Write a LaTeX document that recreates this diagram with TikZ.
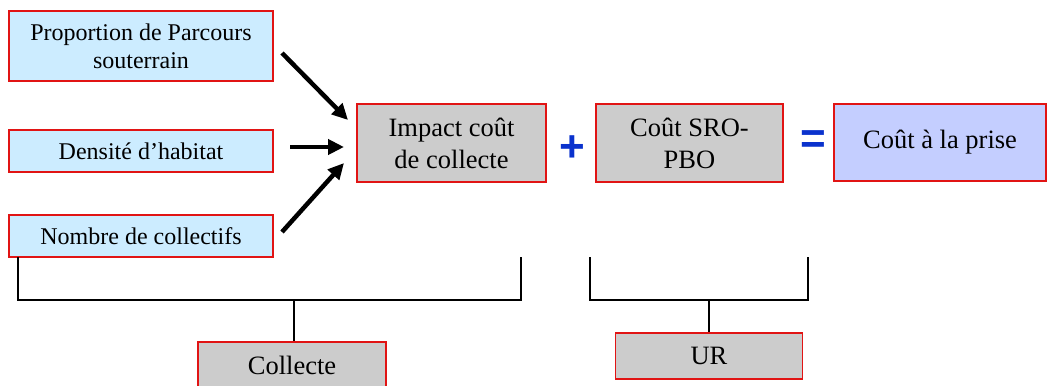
\documentclass[tikz,border=0pt]{standalone}
\usepackage{fontspec}
\setmainfont{Liberation Serif}
\newfontfamily\mysignfont{Liberation Sans}
\usetikzlibrary{arrows.meta}
\definecolor{boxred}{RGB}{225,20,20}
\definecolor{lightblue}{RGB}{204,236,255}
\definecolor{boxgray}{RGB}{204,204,204}
\definecolor{lavender}{RGB}{196,206,255}
\definecolor{signblue}{RGB}{10,50,205}
\tikzset{
  basebox/.style={draw=boxred, line width=1.5pt, inner sep=0pt, align=center, anchor=center},
  leftbox/.style={basebox, fill=lightblue, minimum width=264pt, font=\rmfamily\fontsize{24}{28}\selectfont},
  graybox/.style={basebox, fill=boxgray, font=\rmfamily\fontsize{26.5}{32}\selectfont},
  resultbox/.style={basebox, fill=lavender, font=\rmfamily\fontsize{26.5}{32}\selectfont},
  thickarrow/.style={line width=4.5pt, -{Triangle[length=16pt,width=15pt]}},
  bracket/.style={line width=1.3pt, black},
  signtext/.style={text=signblue, font=\mysignfont\bfseries\fontsize{44}{44}\selectfont, inner sep=0pt}
}
\begin{document}
\begin{tikzpicture}[x=1pt,y=-1pt]
\useasboundingbox (0,0) rectangle (1048,385);
% left boxes
\node[leftbox, minimum height=70pt] (p1) at (141,46) {Proportion de Parcours\\souterrain};
\node[leftbox, minimum height=42pt] (p2) at (141,151) {Densité d’habitat};
\node[leftbox, minimum height=42pt] (p3) at (141,236) {Nombre de collectifs};
% main boxes
\node[graybox, minimum width=189pt, minimum height=78pt] (imp) at (451.5,143) {Impact coût\\de collecte};
\node[graybox, minimum width=187pt, minimum height=78pt] (sro) at (689.5,143) {Coût SRO-\\PBO};
\node[resultbox, minimum width=212pt, minimum height=77pt] (prise) at (940,142.5) {Coût à la prise};
% signs
\node[signtext] (plus) at (572,149) {+};
\node[signtext] (eq) at (813,142) {=};
% bottom boxes
\node[graybox, minimum width=188pt, minimum height=46pt] (col) at (292,365) {Collecte};
\node[graybox, minimum width=187pt, minimum height=46pt] (ur) at (709,356) {UR};
% arrows
\coordinate (a1s) at (282,53);
\coordinate (a1e) at (348,120);
\coordinate (a2s) at (290,147);
\coordinate (a2e) at (344,147);
\coordinate (a3s) at (282,232);
\coordinate (a3e) at (344,163);
\draw[thickarrow] (a1s) -- (a1e);
\draw[thickarrow] (a2s) -- (a2e);
\draw[thickarrow] (a3s) -- (a3e);
% brackets
\coordinate (b1l) at (18,257);
\coordinate (b1r) at (521,257);
\coordinate (b1m) at (294,300);
\draw[bracket] (b1l) |- (b1r |- b1m) -- (b1r);
\draw[bracket] (b1m) -- (col.north -| b1m);
\coordinate (b2l) at (590,257);
\coordinate (b2r) at (808,257);
\coordinate (b2m) at (709,300);
\draw[bracket] (b2l) |- (b2r |- b2m) -- (b2r);
\draw[bracket] (b2m) -- (ur.north);
\end{tikzpicture}
\end{document}
